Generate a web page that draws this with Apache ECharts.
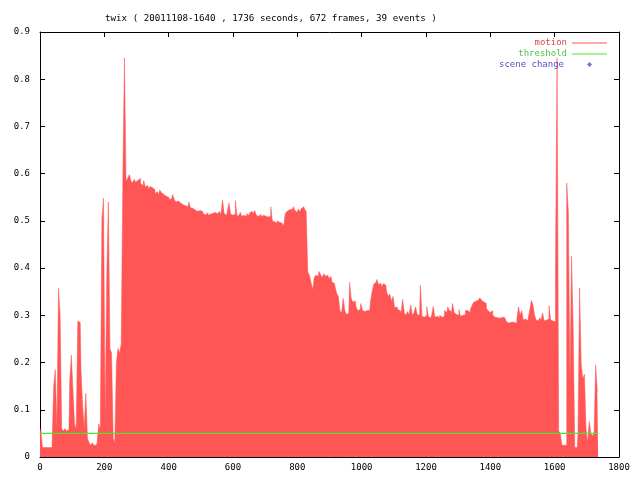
<!DOCTYPE html>
<html>
<head>
<meta charset="utf-8">
<script src="https://cdn.jsdelivr.net/npm/echarts@6/dist/echarts.min.js"></script>
<style>html,body{margin:0;padding:0;background:#fff}#c{width:640px;height:480px}</style>
</head>
<body>
<div id="c"></div>
<script>
// seconds between samples
const step = 5;
// motion values, t = 0..265
const motionIntro = [
  0.045,0.06,0.02,0.02,0.02,0.02,0.02,0.02,0.025,0.15,
  0.185,0.06,0.358,0.3,0.06,0.055,0.06,0.055,0.058,0.163,
  0.216,0.14,0.07,0.06,0.288,0.285,0.185,0.11,0.06,0.135,
  0.04,0.03,0.025,0.03,0.025,0.025,0.03,0.07,0.06,0.506,
  0.548,0.08,0.38,0.54,0.23,0.22,0.04,0.03,0.2,0.23,
  0.22,0.24,0.59,0.845
];
// t = 270..830
const motionHigh = [
  0.585,0.59,0.598,0.585,0.58,0.588,
  0.582,0.586,0.59,0.579,0.575,0.585,
  0.572,0.575,0.568,0.573,0.57,0.566,
  0.558,0.562,0.555,0.565,0.56,0.556,
  0.552,0.548,0.55,0.545,0.548,0.556,
  0.545,0.54,0.542,0.538,0.536,0.534,
  0.532,0.535,0.53,0.54,0.528,0.527,
  0.523,0.525,0.52,0.522,0.518,0.52,
  0.515,0.513,0.517,0.512,0.514,0.516,
  0.513,0.518,0.515,0.512,0.52,0.514,
  0.544,0.515,0.512,0.52,0.538,0.514,
  0.512,0.515,0.543,0.51,0.513,0.518,
  0.51,0.512,0.509,0.515,0.512,0.518,
  0.52,0.515,0.522,0.512,0.51,0.514,
  0.508,0.512,0.51,0.506,0.508,0.51,
  0.53,0.5,0.498,0.495,0.5,0.497,
  0.495,0.493,0.489,0.515,0.52,0.523,
  0.525,0.52,0.53,0.522,0.518,0.525,
  0.52,0.526,0.53,0.525,0.52
];
// t = 835..1600
const motionMid = [
  0.392,0.385,0.37,0.354,0.38,0.385,
  0.383,0.393,0.386,0.38,0.388,0.383,
  0.385,0.378,0.382,0.37,0.368,0.36,
  0.346,0.34,0.31,0.305,0.336,0.31,
  0.302,0.305,0.37,0.335,0.328,0.33,
  0.318,0.31,0.312,0.325,0.31,0.308,
  0.31,0.306,0.31,0.33,0.35,0.366,
  0.37,0.376,0.365,0.368,0.36,0.367,
  0.364,0.35,0.34,0.345,0.33,0.34,
  0.316,0.318,0.312,0.31,0.305,0.334,
  0.305,0.3,0.308,0.302,0.322,0.3,
  0.305,0.318,0.302,0.3,0.364,0.298,
  0.296,0.3,0.318,0.297,0.295,0.3,
  0.319,0.296,0.298,0.295,0.3,0.296,
  0.298,0.31,0.306,0.318,0.31,0.308,
  0.325,0.306,0.302,0.3,0.312,0.298,
  0.3,0.302,0.31,0.31,0.306,0.312,
  0.32,0.327,0.33,0.332,0.334,0.337,
  0.332,0.328,0.325,0.315,0.31,0.306,
  0.31,0.3,0.296,0.295,0.297,0.294,
  0.296,0.293,0.295,0.29,0.285,0.284,
  0.286,0.283,0.285,0.284,0.292,0.318,
  0.3,0.31,0.29,0.292,0.288,0.294,
  0.31,0.332,0.322,0.3,0.29,0.288,
  0.295,0.29,0.305,0.288,0.29,0.292,
  0.32,0.29,0.288,0.286
];
// t = 1605..1735
const motionOutro = [
  0.40,0.845,0.055,0.05,0.025,0.025,0.025,0.58,0.52,0.155,
  0.425,0.275,0.02,0.02,0.05,0.358,0.195,0.165,0.175,0.06,
  0.03,0.075,0.05,0.045,0.05,0.195,0.14
];
const threshold = 0.05;
const duration = 1736;
const sceneChanges = [];
const titleText = 'twix ( 20011108-1640 , 1736 seconds, 672 frames, 39 events )';

const motion = motionIntro.concat(motionHigh, motionMid, motionOutro);
const motionData = motion.map((v, i) => [i * step, v]);

const FONT = 'DejaVu Sans Mono';
const RED = '#ff5555', GREEN = '#55e033', BLUE = '#5050c0';
const chart = echarts.init(document.getElementById('c'), null, {renderer: 'canvas'});
const tick = {show: true, inside: true, length: 5, lineStyle: {color: '#000', width: 1}};
const aline = {show: true, onZero: false, lineStyle: {color: '#000', width: 1}};
const lbl = {color: '#000', fontFamily: FONT, fontSize: 9, formatter: v => String(v)};

function legendItem(name, color, lineColor, right, top, icon, iw, ih, pad) {
  return {
    data: [{name: name, icon: icon, itemStyle: {color: lineColor, borderWidth: 0}}],
    orient: 'vertical', align: 'right', right: right, top: top,
    padding: 0, itemWidth: iw, itemHeight: ih, selectedMode: false,
    textStyle: {color: color, fontFamily: FONT, fontSize: 9, padding: pad}
  };
}

chart.setOption({
  animation: false,
  backgroundColor: '#fff',
  title: {
    text: titleText, left: 100, top: 9,
    textStyle: {fontFamily: FONT, fontSize: 9.2, fontWeight: 'normal', color: '#000'}
  },
  legend: [
    legendItem('motion', '#d04848', RED, 33, 38.5, 'rect', 35, 1, 0),
    legendItem('threshold', '#50c050', GREEN, 33, 49.5, 'rect', 35, 1, 0),
    legendItem('scene change', BLUE, BLUE, 48, 60, 'diamond', 5, 5, [0, 18, 0, 0])
  ],
  grid: {left: 40, right: 21, top: 32, bottom: 23},
  xAxis: [
    {type: 'value', min: 0, max: 1800, interval: 200, position: 'bottom',
     axisLine: aline, axisTick: tick, splitLine: {show: false},
     axisLabel: Object.assign({margin: 6}, lbl)},
    {type: 'value', min: 0, max: 1800, interval: 200, position: 'top',
     axisLine: aline, axisTick: tick, splitLine: {show: false}, axisLabel: {show: false}}
  ],
  yAxis: [
    {type: 'value', min: 0, max: 0.9, interval: 0.1, position: 'left',
     axisLine: aline, axisTick: tick, splitLine: {show: false},
     axisLabel: Object.assign({margin: 10}, lbl)},
    {type: 'value', min: 0, max: 0.9, interval: 0.1, position: 'right',
     axisLine: aline, axisTick: tick, splitLine: {show: false}, axisLabel: {show: false}}
  ],
  series: [
    {name: 'motion', type: 'line', step: 'middle', data: motionData,
     showSymbol: false, symbol: 'none', color: RED,
     lineStyle: {width: 0.5, color: RED},
     areaStyle: {color: RED, opacity: 1}},
    {name: 'threshold', type: 'line', data: [[0, threshold], [duration, threshold]],
     showSymbol: false, symbol: 'none', color: GREEN,
     lineStyle: {width: 1.3, color: GREEN}, z: 3},
    {name: 'scene change', type: 'scatter', data: sceneChanges,
     symbol: 'diamond', symbolSize: 5, color: BLUE}
  ]
});
</script>
</body>
</html>
